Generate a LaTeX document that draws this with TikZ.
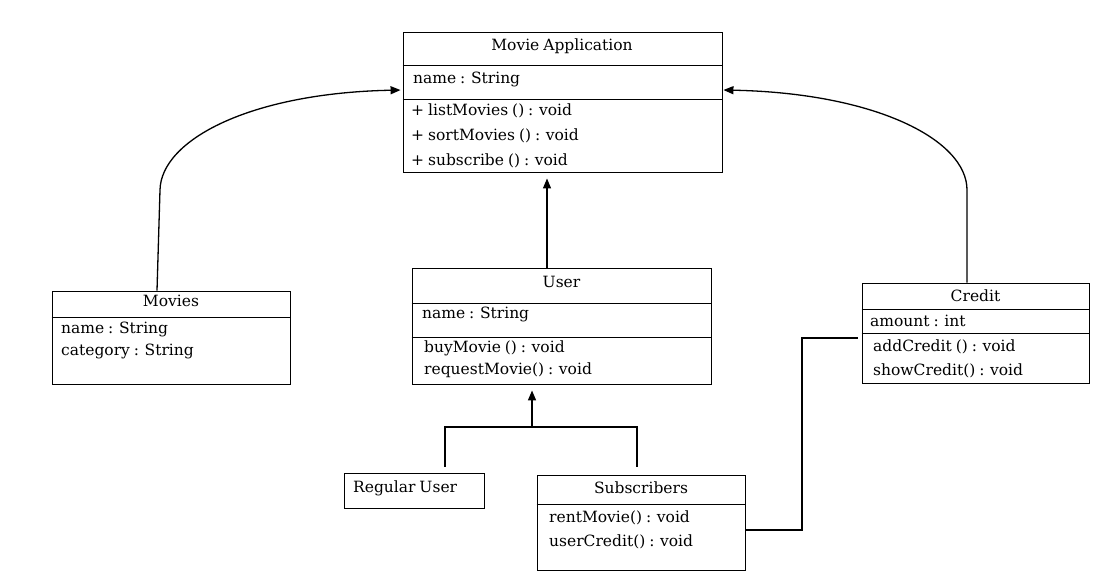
\documentclass[tikz,border=0pt]{standalone}
\usepackage{fontspec}
\setmainfont{DejaVu Serif}[WordSpace=0.8]
\usetikzlibrary{arrows.meta,calc,positioning}

\begin{document}
\begin{tikzpicture}[
  x=1pt,
  y=-1pt,
  classbox/.style={draw=black,line width=0.9pt,inner sep=0pt},
  classtitle/.style={
    anchor=base,
    inner sep=0pt,
    font=\fontsize{15.5}{18}\selectfont
  },
  member/.style={
    anchor=base west,
    inner sep=0pt,
    font=\fontsize{15.5}{18}\selectfont
  },
  divider/.style={line width=0.9pt},
  assoc/.style={line width=1.3pt,-{Triangle[length=10pt,width=8pt]}},
  genline/.style={line width=2.6pt},
  genarrow/.style={line width=1.6pt,-{Triangle[length=10pt,width=8pt]}},
  link/.style={line width=2.6pt}
]

% Canvas
\fill[white] (0,0) rectangle (1106,582);
\useasboundingbox (0,0) rectangle (1106,582);

% Movie Application
\node[classbox,minimum width=319pt,minimum height=140pt] (app) at (562.5,102) {};
\draw[divider] (app.west |- 0,65) -- (app.east |- 0,65);
\draw[divider] (app.west |- 0,99) -- (app.east |- 0,99);
\node[classtitle] (apptitle) at (562,50.5) {Movie Application};
\node[member] (appname) at (413,83) {name : String};
\node[member] (applist) at (411,115) {+ listMovies () : void};
\node[member] (appsort) at (411,140) {+ sortMovies () : void};
\node[member] (appsub) at (411,165) {+ subscribe () : void};

% Movies
\node[classbox,minimum width=238pt,minimum height=93pt] (movies) at (171,337.5) {};
\draw[divider] (movies.west |- 0,317) -- (movies.east |- 0,317);
\node[classtitle] (movtitle) at (171,306.5) {Movies};
\node[member] (movname) at (61,333) {name : String};
\node[member] (movcat) at (61,355) {category : String};

% User
\node[classbox,minimum width=299pt,minimum height=116pt] (user) at (561.5,326) {};
\draw[divider] (user.west |- 0,303) -- (user.east |- 0,303);
\draw[divider] (user.west |- 0,337) -- (user.east |- 0,337);
\node[classtitle] (usertitle) at (561.5,287) {User};
\node[member] (username) at (422,318) {name : String};
\node[member] (userbuy) at (424,352) {buyMovie () : void};
\node[member] (userreq) at (424,374) {requestMovie() : void};

% Regular User
\node[classbox,minimum width=140pt,minimum height=35pt] (reguser) at (414,490.5) {};
\node[member] (regtitle) at (353,492) {Regular User};

% Subscribers
\node[classbox,minimum width=208pt,minimum height=95pt] (subs) at (641,522.5) {};
\draw[divider] (subs.west |- 0,504) -- (subs.east |- 0,504);
\node[classtitle] (substitle) at (641,493) {Subscribers};
\node[member] (subsrent) at (549,522) {rentMovie() : void};
\node[member] (subscred) at (549,546) {userCredit() : void};

% Credit
\node[classbox,minimum width=227pt,minimum height=100pt] (credit) at (975.5,333) {};
\draw[divider] (credit.west |- 0,309) -- (credit.east |- 0,309);
\draw[divider] (credit.west |- 0,333) -- (credit.east |- 0,333);
\node[classtitle] (credtitle) at (975.5,301) {Credit};
\node[member] (credamount) at (870,326) {amount : int};
\node[member] (credadd) at (873,351) {addCredit () : void};
\node[member] (credshow) at (873,375) {showCredit() : void};

% Associations to Movie Application
\coordinate (movbend) at (160,190);
\draw[assoc,shorten >=2pt] ([xshift=-14pt]movies.north) -- (movbend)
  .. controls (161,140) and (250,93) .. ([yshift=12pt]app.west);

\coordinate (credbend) at (967,190);
\draw[assoc,shorten >=1pt] ([xshift=-8.5pt]credit.north) -- (credbend)
  .. controls (967,140) and (876,93) .. ([yshift=12pt]app.east);

\draw[assoc,shorten >=6pt] ([xshift=-14.5pt]user.north)
  -- ([xshift=-14.5pt]user.north |- app.south);

% Generalisation to User
\coordinate (genjoin) at (532,427);
\draw[genline,shorten <=6pt,shorten >=8pt] ([xshift=31pt]reguser.north)
  |- (genjoin) -| ([xshift=-4pt]subs.north);
\draw[genarrow,shorten >=6pt] (genjoin) -- ([xshift=-29.5pt]user.south);

% Subscribers to Credit
\coordinate (credjoin) at (802,338);
\draw[link,shorten >=4pt] ([yshift=-7.5pt]subs.east) -| (credjoin)
  -- ([yshift=-5pt]credit.west);

\end{tikzpicture}
\end{document}
